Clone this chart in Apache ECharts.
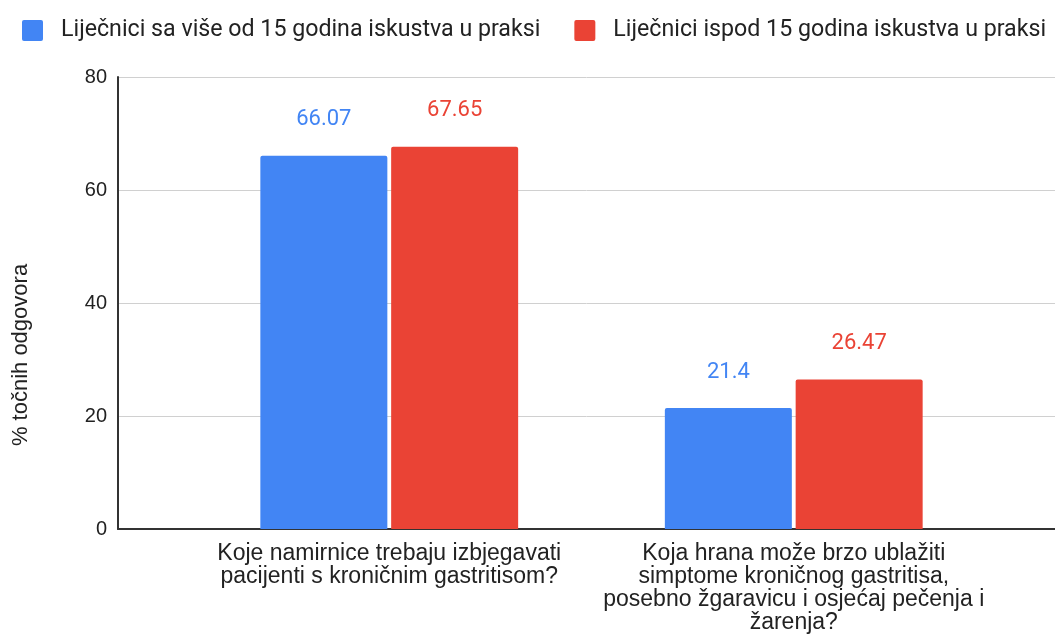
<!DOCTYPE html>
<html>
<head>
<meta charset="utf-8">
<script src="https://cdn.jsdelivr.net/npm/echarts@6/dist/echarts.min.js"></script>
<style>
  html, body { margin: 0; padding: 0; background: #fff; }
  #main { width: 1055px; height: 643px; }
</style>
</head>
<body>
<div id="main"></div>
<script>
// podaci
const categories = [
  'Koje namirnice trebaju izbjegavati\npacijenti s kroničnim gastritisom?',
  'Koja hrana može brzo ublažiti\nsimptome kroničnog gastritisa,\nposebno žgaravicu i osjećaj pečenja i\nžarenja?'
]
const seriesNames = ['Liječnici sa više od 15 godina iskustva u praksi', 'Liječnici ispod 15 godina iskustva u praksi']
const iznad15 = [66.07, 21.4]
const ispod15 = [67.65, 26.47]
const yTicks = [0, 20, 40, 60, 80]

const colors = ['#4285F4', '#EA4335']
const font = 'Roboto, "Liberation Sans", Arial, sans-serif'
const arial = '"Liberation Sans", Arial, sans-serif'

const myChart = echarts.init(document.getElementById('main'))

const barSeries = (name, data, i) => ({
  name: name,
  type: 'bar',
  xAxisIndex: 1,
  yAxisIndex: 1,
  data: data,
  barWidth: 127,
  barGap: '3%',
  itemStyle: { color: colors[i], borderRadius: [2, 2, 0, 0] },
  label: {
    show: true,
    position: 'top',
    distance: 25,
    color: colors[i],
    fontFamily: font,
    fontSize: 22
  }
})

const option = {
  animation: false,
  color: colors,
  legend: {
    data: seriesNames,
    top: 19,
    left: 22,
    padding: 0,
    width: 1040,
    itemWidth: 21,
    itemHeight: 21,
    itemGap: 34,
    icon: 'path://M2,0 L19,0 Q21,0 21,2 L21,19 Q21,21 19,21 L2,21 Q0,21 0,19 L0,2 Q0,0 2,0 Z',
    textStyle: { fontFamily: font, fontSize: 23.2, color: '#222', padding: [0, 0, 0, 13] }
  },
  grid: [
    { left: 118, right: 0, top: 77, bottom: 114 },
    { left: 187, right: 59, top: 77, bottom: 114 }
  ],
  xAxis: [
    {
      type: 'category',
      gridIndex: 0,
      data: ['a'],
      axisLine: { show: true, lineStyle: { color: '#333', width: 2 } },
      axisTick: { show: false },
      axisLabel: { show: false }
    },
    {
      type: 'category',
      gridIndex: 1,
      data: categories,
      axisLine: { show: false },
      axisTick: { show: false },
      axisLabel: {
        interval: 0,
        margin: 13,
        color: '#222',
        fontFamily: arial,
        fontSize: 23,
        lineHeight: 23,
        align: 'center'
      }
    }
  ],
  yAxis: [
    {
      type: 'value',
      gridIndex: 0,
      min: yTicks[0],
      max: yTicks[yTicks.length - 1],
      interval: 20,
      name: '% točnih odgovora',
      nameLocation: 'middle',
      nameGap: 86,
      nameTextStyle: { color: '#222', fontFamily: arial, fontSize: 22, padding: [0, 104, 0, 0] },
      axisLine: { show: true, lineStyle: { color: '#333', width: 2 } },
      axisTick: { show: false },
      axisLabel: { color: '#222', fontFamily: arial, fontSize: 20, margin: 11 },
      splitLine: { lineStyle: { color: '#d0d0d0', width: 1 } }
    },
    {
      type: 'value',
      gridIndex: 1,
      min: yTicks[0],
      max: yTicks[yTicks.length - 1],
      interval: 20,
      show: false
    }
  ],
  series: [
    barSeries(seriesNames[0], iznad15, 0),
    barSeries(seriesNames[1], ispod15, 1)
  ]
}
myChart.setOption(option)
</script>
</body>
</html>
